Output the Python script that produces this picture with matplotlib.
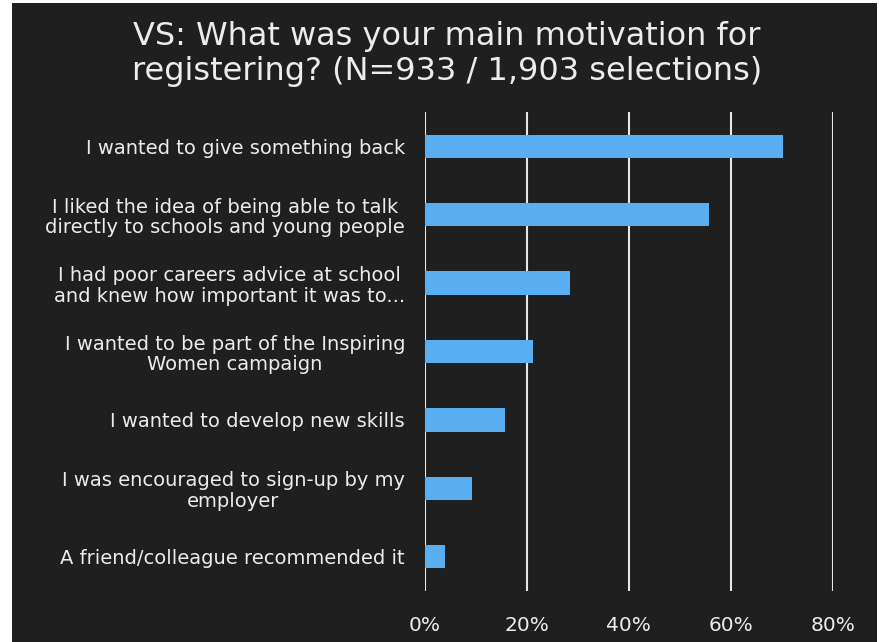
import matplotlib
matplotlib.use("Agg")
import matplotlib.pyplot as plt
from matplotlib.patches import Rectangle

# survey answers, top to bottom as shown
labels = [
    "I wanted to give something back",
    "I liked the idea of being able to talk\ndirectly to schools and young people",
    "I had poor careers advice at school\nand knew how important it was to...",
    "I wanted to be part of the Inspiring\nWomen campaign",
    "I wanted to develop new skills",
    "I was encouraged to sign-up by my\nemployer",
    "A friend/colleague recommended it",
]
pct = [70.2, 55.8, 28.4, 21.3, 15.8, 9.4, 4.0]
xticks = [0, 20, 40, 60, 80]

bg = "#1f1f1f"
bar_col = "#58aef0"
txt = "#ececec"

plt.rcParams["font.family"] = ["DejaVu Sans"]

fig = plt.figure(figsize=(8.85, 6.42), dpi=100, facecolor="white")
# dark slide area (thin white border left/right/top like the screenshot)
fig.add_artist(Rectangle((12 / 885, 0), 865 / 885, 639 / 642,
                         transform=fig.transFigure, facecolor=bg,
                         edgecolor="none", zorder=-10))

ax = fig.add_axes([424.5 / 885, 1 - 591 / 642, 408.5 / 885, 479 / 642])
ax.set_facecolor(bg)
ax.patch.set_alpha(0)

ypos = list(range(len(labels)))
ax.barh(ypos, pct, height=0.34, color=bar_col, zorder=3)
ax.set_ylim(len(labels) - 0.5, -0.5)
ax.set_xlim(0, 80)

ax.set_xticks(xticks)
ax.set_xticklabels([f"{t}%" for t in xticks])
ax.set_yticks(ypos)
ax.set_yticklabels(labels)
for lab in ax.get_yticklabels():
    lab.set_multialignment("center")
    lab.set_linespacing(1.1)

ax.tick_params(axis="both", length=0, colors=txt)
ax.tick_params(axis="y", labelsize=14, pad=14)
ax.tick_params(axis="x", labelsize=14.5, pad=18)
for s in ax.spines.values():
    s.set_visible(False)

ax.xaxis.grid(True, color="#e6e6e6", linewidth=1.5, zorder=1)
ax.yaxis.grid(False)
ax.set_axisbelow(True)

fig.text(447 / 885, 1 - 54 / 642,
         "VS: What was your main motivation for\nregistering? (N=933 / 1,903 selections)",
         ha="center", va="center", color=txt, fontsize=23, linespacing=1.2)

fig.savefig("out.png", dpi=100, facecolor="white")
